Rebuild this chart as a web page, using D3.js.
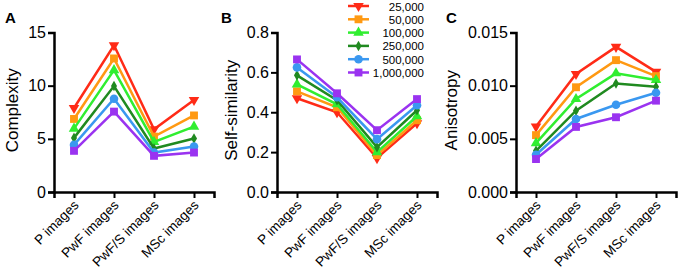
<!DOCTYPE html>
<html>
<head>
<meta charset="utf-8">
<script src="https://cdn.jsdelivr.net/npm/d3@7"></script>
<style>
    body { margin: 0; background: #fff; }
    svg { display: block; font-family: "Liberation Sans", Arial, sans-serif; }
</style>
</head>
<body>
<script>
// three panels: complexity, self-similarity, anisotropy
// one line per sample size, same 4 image groups on x

const categories = ["P images", "PwF images", "PwF/S images", "MSc images"];
const seriesNames = ["25,000", "50,000", "100,000", "250,000", "500,000", "1,000,000"];

const complexity = [
    [7.9, 13.8, 5.9, 8.65],
    [6.87, 12.56, 5.21, 7.2],
    [5.96, 11.46, 4.71, 6.15],
    [5.09, 9.96, 4.09, 5.03],
    [4.43, 8.77, 3.71, 4.28],
    [3.87, 7.56, 3.4, 3.71]
];
const selfSimilarity = [
    [0.47, 0.40, 0.17, 0.345],
    [0.505, 0.425, 0.185, 0.36],
    [0.54, 0.44, 0.20, 0.38],
    [0.585, 0.46, 0.225, 0.41],
    [0.625, 0.475, 0.265, 0.435],
    [0.665, 0.495, 0.31, 0.466]
];
const anisotropy = [
    [0.00615, 0.0111, 0.01365, 0.0113],
    [0.00535, 0.00985, 0.0124, 0.0109],
    [0.0046, 0.00875, 0.01116, 0.01053],
    [0.00387, 0.00765, 0.0102, 0.0099],
    [0.0035, 0.00687, 0.0082, 0.00934],
    [0.0031, 0.00612, 0.00703, 0.00859]
];

const complexityTicks = [0, 5, 10, 15];
const similarityTicks = [0, 0.2, 0.4, 0.6, 0.8];
const anisotropyTicks = [0, 0.005, 0.010, 0.015];

function main() {
    let colors = ["#ff2b17", "#ff9912", "#30ee30", "#208a20", "#3a98f0", "#9a33f0"];
    // marker per series: down triangle, square, triangle, diamond, circle, square
    let symbols = [
        {type: d3.symbolTriangle, size: 48, rot: 180},
        {type: d3.symbolSquare, size: 62, rot: 0},
        {type: d3.symbolTriangle, size: 48, rot: 0},
        {type: d3.symbolDiamond, size: 32, rot: 0},
        {type: d3.symbolCircle, size: 58, rot: 0},
        {type: d3.symbolSquare, size: 62, rot: 0}
    ];

    let svg = d3.select("body").append("svg")
        .attr("width", 680)
        .attr("height", 272);

    let top = 32.5, bottom = 192;

    let panels = [
        {letter: "A", lx: 5, left: 54, title: "Complexity", tx: 17.5, data: complexity,
            max: 15, ticks: complexityTicks, fmt: d3.format("d")},
        {letter: "B", lx: 221, left: 277, title: "Self-similarity", tx: 237, data: selfSimilarity,
            max: 0.8, ticks: similarityTicks, fmt: d3.format(".1f")},
        {letter: "C", lx: 446, left: 516, title: "Anisotropy", tx: 457, data: anisotropy,
            max: 0.015, ticks: anisotropyTicks, fmt: d3.format(".3f")}
    ];

    panels.forEach(function (p) {
        let x = d3.scalePoint().domain(categories).range([p.left, p.left + 160]).padding(0.5);
        let y = d3.scaleLinear().domain([0, p.max]).range([bottom, top]);

        let g = svg.append("g");

        // y axis
        let ya = g.append("g")
            .attr("transform", "translate(" + p.left + ",0)")
            .call(d3.axisLeft(y).tickValues(p.ticks).tickFormat(p.fmt).tickSizeOuter(0).tickSize(6).tickPadding(2));
        // x axis
        let xa = g.append("g")
            .attr("transform", "translate(0," + bottom + ")")
            .call(d3.axisBottom(x).tickSizeOuter(0).tickSize(6));

        [ya, xa].forEach(function (a) {
            a.select(".domain").attr("stroke", "#000").attr("stroke-width", 2.5);
            a.selectAll(".tick line").attr("stroke", "#000").attr("stroke-width", 2);
        });
        ya.selectAll(".tick text").attr("font-size", 16).attr("fill", "#000")
            .attr("font-family", "Liberation Sans, Arial, sans-serif");
        xa.selectAll(".tick text")
            .attr("font-size", 13.5).attr("fill", "#000")
            .attr("font-family", "Liberation Sans, Arial, sans-serif")
            .attr("text-anchor", "end")
            .attr("dy", null).attr("y", null)
            .attr("transform", "translate(5,14) rotate(-45)");

        // y title
        g.append("text")
            .attr("transform", "translate(" + p.tx + "," + ((top + bottom) / 2 - 2) + ") rotate(-90)")
            .attr("text-anchor", "middle")
            .attr("font-size", 17)
            .text(p.title);

        // panel letter
        g.append("text")
            .attr("x", p.lx).attr("y", 23)
            .attr("font-size", 15).attr("font-weight", "bold")
            .text(p.letter);

        let line = d3.line()
            .x(function (d, i) { return x(categories[i]); })
            .y(function (d) { return y(d); });

        p.data.forEach(function (vals, s) {
            g.append("path")
                .attr("d", line(vals))
                .attr("fill", "none")
                .attr("stroke", colors[s])
                .attr("stroke-width", 2.5);
            g.selectAll(null)
                .data(vals)
                .enter().append("path")
                .attr("d", d3.symbol().type(symbols[s].type).size(symbols[s].size))
                .attr("transform", function (d, i) {
                    return "translate(" + x(categories[i]) + "," + y(d) + ") rotate(" + symbols[s].rot + ")";
                })
                .attr("fill", colors[s]);
        });
    });

    // legend, sits in panel B top right
    let leg = svg.append("g");
    seriesNames.forEach(function (name, i) {
        let ly = 6 + i * 13.3;
        leg.append("line")
            .attr("x1", 348).attr("x2", 369).attr("y1", ly).attr("y2", ly)
            .attr("stroke", colors[i]).attr("stroke-width", 2.5);
        leg.append("path")
            .attr("d", d3.symbol().type(symbols[i].type).size(symbols[i].size))
            .attr("transform", "translate(358.5," + ly + ") rotate(" + symbols[i].rot + ")")
            .attr("fill", colors[i]);
        leg.append("text")
            .attr("x", 424).attr("y", ly + 4.5)
            .attr("text-anchor", "end")
            .attr("font-size", 11.5)
            .text(name);
    });
}

main();
</script>
</body>
</html>
